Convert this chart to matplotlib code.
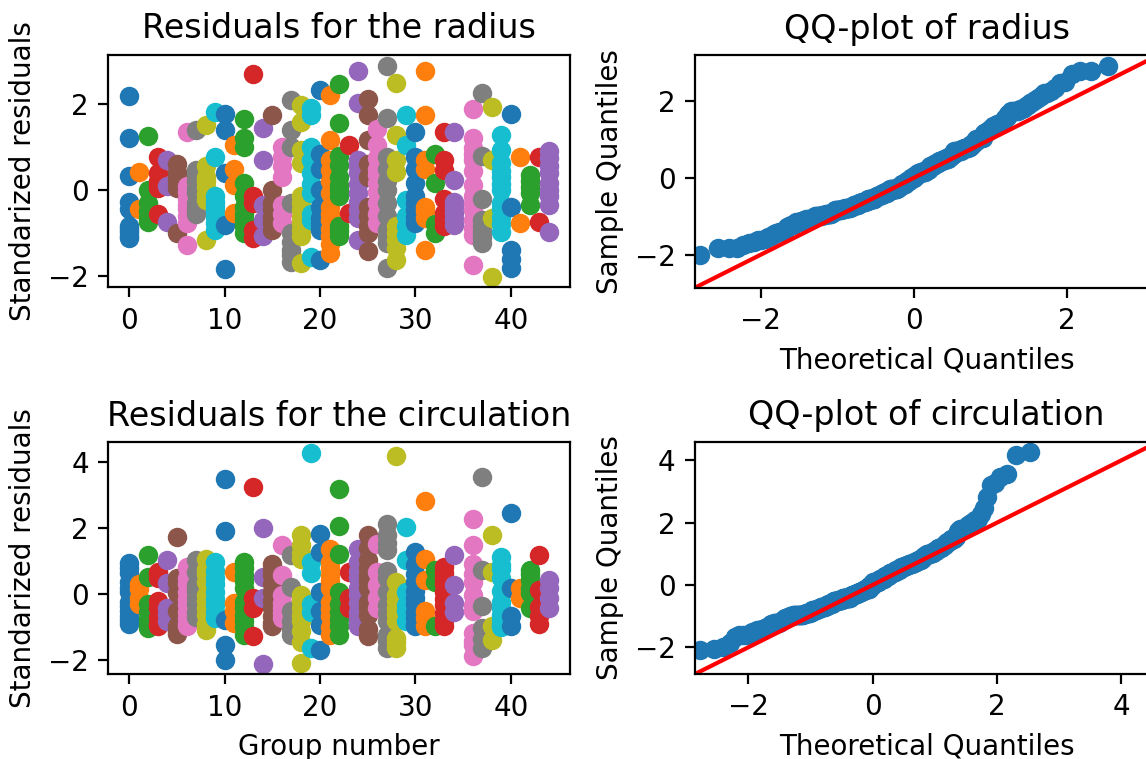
import numpy as np
import matplotlib.pyplot as plt
from statistics import NormalDist

# standardized residuals per group (group 35 has no data);
# many points sit on top of each other inside the columns
radius = [
    [2.2, 1.22, 0.33, -0.27, -0.45, -0.85, -0.92, -0.97, -1.06, -1.12],
    [0.43, -0.45],
    [1.25, 0.0, -0.3, -0.5, -0.62, -0.75],
    [0.78, 0.4, 0.2, 0.12, 0.05, -0.55],
    [0.7, 0.1, -0.75],
    [0.6, 0.43, 0.3, 0.18, 0.05, -1.0],
    [1.36, 0.1, -0.05, -0.2, -0.35, -0.45, -0.6, -0.78, -1.28],
    [1.4, 0.47, 0.35, 0.2, 0.05, -0.08, -0.3, -0.42, -0.55],
    [1.51, 0.55, 0.31, 0.2, 0.08, -0.1, -0.23, -1.16],
    [1.82, 0.78, -0.15, -0.28, -0.4, -0.5, -0.62, -0.78, -0.93],
    [1.78, 1.4, 0.39, -0.81, -1.84],
    [1.05, 0.5, 0.12, -0.54],
    [1.65, 1.2, 1.0, 0.16, -0.15, -0.4, -0.55, -0.7, -0.85, -1.0],
    [2.71, -0.15, -0.3, -0.93, -1.12],
    [1.45, 0.7, -0.35, -0.7, -1.08],
    [1.74, 0.0, -0.3, -0.45, -0.62, -0.78, -0.93],
    [1.0, 0.78, 0.55, 0.31, -0.35, -0.55, -0.78],
    [2.09, 1.4, 1.0, -0.3, -1.0, -1.2, -1.4, -1.52, -1.67],
    [1.98, 1.59, 0.93, 0.62, -0.15, -0.3, -0.47, -0.62, -0.78, -0.93, -1.08, -1.7],
    [1.9, 1.74, 1.0, 0.7, 0.39, 0.15, -0.08, -0.55, -0.7, -1.55],
    [2.33, 0.85, 0.5, 0.0, -0.39, -0.65, -0.8, -0.93, -1.63],
    [2.21, 1.16, 0.7, 0.47, 0.2, -0.08, -0.39, -0.55, -0.7, -0.9, -1.08, -1.25, -1.47],
    [2.48, 1.55, 0.8, 0.58, 0.3, 0.12, 0.0, -0.15, -0.85, -0.95, -1.08],
    [1.05, -0.54],
    [2.78, 2.02, 0.7, 0.55, 0.39, 0.15, -0.08, -0.28, -0.47, -0.65, -1.16],
    [2.13, 1.74, 1.16, 0.6, 0.31, -0.39, -0.6, -0.85, -1.0, -1.43],
    [1.43, 1.05, 0.75, 0.5, 0.35, 0.16, -0.05, -0.3, -0.55, -0.78],
    [2.9, 1.67, 0.78, 0.5, 0.2, 0.0, -0.3, -0.6, -0.93, -1.1, -1.24, -1.82],
    [2.5, 1.28, 0.7, 0.43, -0.85, -1.0, -1.16, -1.35, -1.63],
    [1.74, 1.05, -0.23, -0.6, -0.85, -1.05],
    [1.36, 0.78, 0.5, 0.16, -0.15, -0.3, -0.47, -0.62, -0.78],
    [2.77, 1.74, 0.7, 0.5, -0.39, -0.5, -0.66, -1.4],
    [0.85, 0.16, -0.8, -1.0],
    [1.36, 0.7, 0.47, -0.2, -0.54, -0.7, -0.85],
    [1.36, 0.23, -0.27, -0.4, -0.54, -0.68, -0.81],
    [],
    [1.88, 1.2, 0.97, 0.85, 0.7, 0.45, 0.12, -0.15, -0.3, -0.47, -0.7, -0.88, -1.05, -1.74],
    [2.26, 0.79, -0.2, -0.7, -0.85, -0.97, -1.1, -1.24],
    [1.94, 0.7, -0.66, -2.02],
    [1.28, 0.93, 0.62, 0.45, 0.31, 0.15, 0.0, -0.3, -0.45, -0.62, -0.8, -0.97],
    [1.78, -0.39, -1.4, -1.6, -1.82],
    [0.76, -0.76],
    [0.35, 0.22, 0.08, -0.08, -0.35],
    [0.78, -0.74],
    [0.9, 0.74, 0.55, 0.39, 0.16, 0.0, -0.15, -0.35, -0.97],
]

circulation = [
    [0.95, 0.8, 0.65, 0.38, 0.2, 0.08, -0.22, -0.35, -0.5, -0.65, -0.78, -0.9],
    [0.3, 0.15, -0.12, -0.3],
    [1.18, 0.53, -0.3, -0.52, -0.75, -0.9, -1.02],
    [0.68, 0.6, 0.48, -0.2, -0.42, -0.7, -0.9, -0.97],
    [1.03, 0.33, -0.42, -0.6, -0.82],
    [1.73, 0.5, 0.33, 0.03, -0.5, -0.97, -1.1, -1.2],
    [0.83, 0.48, 0.3, 0.08, -0.15, -0.32, -0.52, -0.72, -0.9, -0.97],
    [1.03, 0.68, 0.28, 0.1, -0.12, -0.3, -0.52, -0.7],
    [1.08, 0.78, 0.6, 0.38, -0.02, -0.2, -0.42, -0.62, -0.9, -1.07],
    [0.98, 0.7, 0.48, 0.3, 0.08, -0.15, -0.32, -0.52, -0.72],
    [3.48, 1.93, -0.77, -1.52, -2.0],
    [0.68, -0.27, -0.5, -0.87],
    [0.98, 0.8, 0.58, 0.4, 0.18, -0.22, -0.42, -0.62, -0.8, -1.0, -1.22],
    [3.26, -0.12, -0.42, -1.27],
    [2.0, 0.53, -0.12, -2.1],
    [0.93, 0.75, 0.58, 0.3, 0.08, -0.2, -0.42, -0.65, -0.87, -0.95],
    [1.48, 0.58, -0.02, -0.25, -0.42, -0.58, -0.72],
    [1.18, 0.23, -0.5, -0.82, -1.05, -1.22],
    [1.78, 1.48, 1.25, 1.08, -0.02, -0.2, -0.42, -0.62, -0.82, -1.12, -1.45, -2.07],
    [4.28, 0.98, 0.63, -0.3, -0.52, -1.62],
    [1.83, 1.28, 0.08, -0.5, -0.92, -1.67],
    [1.38, 0.98, 0.8, 0.58, 0.4, 0.18, -0.22, -0.45, -0.67, -1.0, -1.22],
    [3.2, 2.08, 1.23, 0.08, -0.3, -0.52, -0.75, -0.97, -1.22],
    [0.68, -0.12, -0.42],
    [1.38, 0.98, 0.7, 0.48, 0.2, -0.02, -0.25, -0.52, -0.72, -0.9, -0.97],
    [1.78, 1.4, 1.03, 0.8, 0.58, 0.4, 0.18, -0.22, -0.42, -0.62, -1.05, -1.27],
    [1.53, 0.68, 0.28, -0.12, -0.42],
    [2.13, 1.78, 1.55, 1.33, 0.7, 0.48, 0.08, -0.32, -0.55, -0.82, -1.22, -1.42, -1.62],
    [4.18, 0.38, -0.02, -0.2, -0.42, -0.6, -0.82, -1.32, -1.45, -1.62],
    [2.03, 1.03, 0.08, -0.32, -0.5, -0.82],
    [1.28, 0.88, 0.6, 0.38, 0.1, -0.12, -0.3, -0.52, -0.72, -0.92, -0.95],
    [2.83, 1.08, 0.43, -0.5, -0.72, -0.97],
    [0.73, 0.38, -0.97],
    [0.83, 0.65, 0.48, 0.3, 0.08, -0.15, -0.32, -0.55, -0.77, -0.95],
    [1.2, 0.28, -0.27, -0.52],
    [],
    [2.28, 1.48, 0.93, 0.6, 0.38, -0.02, -0.32, -0.5, -1.17, -1.4, -1.52, -1.87],
    [3.55, 0.73, -0.34, -1.02, -1.35, -1.62],
    [1.78, 0.68, -0.97, -1.37],
    [1.13, 0.9, 0.78, 0.48, 0.1, -0.22, -0.42, -0.62, -0.78, -0.92, -1.0],
    [2.46, 0.18, -0.67, -0.97],
    [0.18, -0.12],
    [0.73, 0.6, 0.43, 0.2, 0.03, -0.42],
    [1.2, 0.13, -0.37, -0.67, -0.9],
    [0.43, 0.18, -0.12, -0.42],
]

# theoretical quantile location/scale and the shared limits of the QQ axes
qq_loc = -0.125
qq_scale = 0.97
qq_lims = {"radius": (-2.86, 3.19), "circulation": (-2.86, 4.59)}


def resid_plot(ax, groups, title):
    for g, vals in enumerate(groups):
        ax.plot(np.full(len(vals), g), vals, 'o', color='C%d' % (g % 10))
    ax.set_title(title)
    ax.set_ylabel("Standarized residuals")


def qq_plot(ax, groups, name):
    data = np.sort(np.concatenate([np.array(v, float) for v in groups if len(v)]))
    n = len(data)
    nd = NormalDist(qq_loc, qq_scale)
    theo = np.array([nd.inv_cdf(i / (n + 1)) for i in range(1, n + 1)])
    ax.plot(theo, data, 'o', color='C0')
    lo, hi = qq_lims[name]
    ax.plot([lo, hi], [lo, hi], 'r-')
    ax.set_xlim(lo, hi)
    ax.set_ylim(lo, hi)
    ax.set_title("QQ-plot of " + name)
    ax.set_xlabel("Theoretical Quantiles")
    ax.set_ylabel("Sample Quantiles")


fig = plt.figure(figsize=(5.73, 3.795), dpi=200)
ax1 = fig.add_axes([0.0945, 0.6215, 0.4029, 0.3061])
ax2 = fig.add_axes([0.6065, 0.6210, 0.4040, 0.3061])
ax3 = fig.add_axes([0.0945, 0.1116, 0.4029, 0.3057])
ax4 = fig.add_axes([0.6065, 0.1120, 0.4040, 0.3057])

resid_plot(ax1, radius, "Residuals for the radius")
qq_plot(ax2, radius, "radius")
resid_plot(ax3, circulation, "Residuals for the circulation")
ax3.set_xlabel("Group number")
qq_plot(ax4, circulation, "circulation")

fig.savefig("out.png", dpi=200)
